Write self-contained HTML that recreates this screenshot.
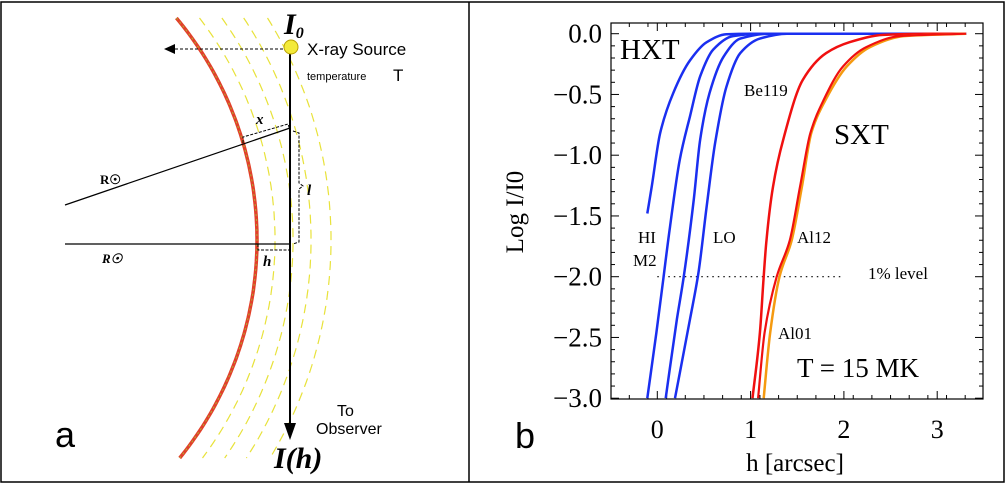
<!DOCTYPE html>
<html><head><meta charset="utf-8"><style>
html,body{margin:0;padding:0;background:#fff;}
svg{display:block;}
.serif{font-family:"Liberation Serif",serif;}
.sans{font-family:"Liberation Sans",sans-serif;}
</style></head><body>
<svg id="root" width="1006" height="485" viewBox="0 0 1006 485" xmlns="http://www.w3.org/2000/svg">
<rect x="1" y="2" width="1003" height="480" fill="#fff" stroke="#000" stroke-width="1.5"/>
<line x1="469" y1="2" x2="469" y2="482" stroke="#000" stroke-width="1.5"/>

<g id="panelA">
  <g id="arcs"></g>
  <line x1="290" y1="52" x2="290" y2="425" stroke="#000" stroke-width="2"/>
  <polygon points="284,423 296,423 290,440" fill="#000"/>
  <line x1="283" y1="49" x2="175" y2="49" stroke="#000" stroke-width="1" stroke-dasharray="3,2"/>
  <polygon points="164,49 175,44 175,54" fill="#000"/>
  <circle cx="291" cy="47" r="7" fill="#f3ea3a" stroke="#b9a000" stroke-width="1"/>
  <line x1="65" y1="205" x2="290" y2="128" stroke="#000" stroke-width="1.2"/>
  <line x1="65" y1="244" x2="290" y2="244" stroke="#000" stroke-width="1.2"/>
  <path d="M243,143 L243,137 L288,124 L290,130" fill="none" stroke="#000" stroke-width="1" stroke-dasharray="3,1.5"/>
  <path d="M293,131 L299,133 L299,183 L303,186 L299,189 L299,242 L293,244" fill="none" stroke="#000" stroke-width="1" stroke-dasharray="3,1.5"/>
  <path d="M258,244 L258,250 L289,250" fill="none" stroke="#000" stroke-width="1" stroke-dasharray="3,1.5"/>
  <text x="256" y="124" class="serif" font-size="15" font-style="italic" font-weight="bold">x</text>
  <text x="307" y="195" class="serif" font-size="15" font-style="italic" font-weight="bold">l</text>
  <text x="263" y="266" class="serif" font-size="15" font-style="italic" font-weight="bold">h</text>
  <text x="100" y="184" class="serif" font-size="13" font-weight="bold">R☉</text>
  <text x="102" y="263" class="serif" font-size="13" font-style="italic" font-weight="bold">R☉</text>
  <text x="284" y="34" class="serif" font-size="30" font-style="italic" font-weight="bold">I<tspan font-size="16" dy="4">0</tspan></text>
  <text x="307" y="55" class="sans" font-size="17">X-ray Source</text>
  <text x="307" y="80" class="sans" font-size="11">temperature</text>
  <text x="393" y="81" class="sans" font-size="17">T</text>
  <text x="337" y="416" class="sans" font-size="16">To</text>
  <text x="316" y="434" class="sans" font-size="16">Observer</text>
  <text x="274" y="468" class="serif" font-size="30" font-style="italic" font-weight="bold">I(h)</text>
  <text x="55" y="447" class="sans" font-size="36">a</text>
</g>

<g id="panelB">
  <g id="ticks"></g>
  <g id="series"></g>
  <rect x="611" y="23" width="372" height="376" fill="none" stroke="#000" stroke-width="1.2"/>
  <text x="620" y="59" class="serif" font-size="29">HXT</text>
  <text x="834" y="144" class="serif" font-size="29">SXT</text>
  <text x="744" y="96" class="serif" font-size="17">Be119</text>
  <text x="638" y="243" class="serif" font-size="17">HI</text>
  <text x="633" y="266" class="serif" font-size="17">M2</text>
  <text x="713" y="243" class="serif" font-size="17">LO</text>
  <text x="797" y="243" class="serif" font-size="17">Al12</text>
  <text x="778" y="339" class="serif" font-size="17">Al01</text>
  <text x="868" y="279" class="serif" font-size="17">1% level</text>
  <text x="797" y="377" class="serif" font-size="27">T = 15 MK</text>
  <text x="795" y="471" class="serif" font-size="25" text-anchor="middle">h [arcsec]</text>
  <text transform="translate(523,212) rotate(-90)" class="serif" font-size="25" text-anchor="middle">Log I/I0</text>
  <text x="515" y="448" class="sans" font-size="36">b</text>
</g>
</svg>
<script>
const xTicks=[0,1,2,3];
const yTicks=[0,-0.5,-1,-1.5,-2,-2.5,-3];
const yTickLabels=["0.0","\u22120.5","\u22121.0","\u22121.5","\u22122.0","\u22122.5","\u22123.0"];
const hHI=[-0.107,-0.06,0.03,0.17,0.35,0.53,0.74,1.0,3.31];
const vHI=[-1.48,-1.26,-0.82,-0.49,-0.22,-0.07,-0.005,0,0];
const hM2=[-0.107,-0.01,0.064,0.136,0.24,0.35,0.46,0.6,0.81,1.1,3.31];
const vM2=[-3.0,-2.46,-2.02,-1.59,-1.04,-0.68,-0.35,-0.13,-0.02,0,0];
const hMID=[0.09,0.21,0.28,0.39,0.46,0.56,0.71,0.89,1.2,3.31];
const vMID=[-3.0,-2.35,-2.02,-1.37,-0.87,-0.49,-0.19,-0.04,0,0];
const hLO=[0.19,0.35,0.44,0.53,0.62,0.74,0.89,1.1,1.39,3.31];
const vLO=[-3.0,-2.35,-1.97,-1.42,-0.9,-0.44,-0.16,-0.04,0,0];
const hBe=[1.02,1.1,1.14,1.17,1.24,1.35,1.56,1.81,2.06,2.42,2.9,3.31];
const vBe=[-3.0,-2.46,-2.0,-1.7,-1.26,-0.87,-0.38,-0.16,-0.07,-0.01,0,0];
const hAl12=[1.08,1.15,1.28,1.42,1.53,1.64,1.78,1.99,2.24,2.6,3.31];
const vAl12=[-3.0,-2.46,-2.0,-1.7,-1.26,-0.82,-0.55,-0.27,-0.11,-0.02,0];
const hAl01=[1.14,1.21,1.31,1.44,1.55,1.65,1.8,2.03,2.28,2.64,3.31];
const vAl01=[-3.0,-2.46,-2.0,-1.7,-1.26,-0.82,-0.55,-0.27,-0.11,-0.02,0];
const onePercent=-2;

const NS="http://www.w3.org/2000/svg";
const X0=611,X1=983,Y0=23,Y1=399;
function xs(h){return 657.3+h*93.3;}
function ys(v){return 33.7-v*121.5;}
function mk(tag,parent){const e=document.createElementNS(NS,tag);parent.appendChild(e);return e;}

// panel a arcs
const arcG=document.getElementById('arcs');
const cx=-89,cy=240,R=346;
function arcPath(r){
  const pts=[];
  for(let y=18;y<=460;y+=4){const dy=y-cy;pts.push((cx+Math.sqrt(r*r-dy*dy)).toFixed(1)+","+y);}
  return "M"+pts.join(" L");
}
[18,36,54,74].forEach(function(d){
  const p=mk('path',arcG);
  p.setAttribute('d',arcPath(R+d));p.setAttribute('fill','none');p.setAttribute('stroke','#e8e23a');p.setAttribute('stroke-width','1.2');p.setAttribute('stroke-dasharray','9,6');
  
  
});
const sun=mk('path',arcG);
sun.setAttribute('d',arcPath(R));sun.setAttribute('fill','none');sun.setAttribute('stroke','#e2402a');sun.setAttribute('stroke-width','3.5');


const sun2=mk('path',arcG);
sun2.setAttribute('d',arcPath(R));sun2.setAttribute('fill','none');sun2.setAttribute('stroke','#9acd32');sun2.setAttribute('stroke-width','0.8');sun2.setAttribute('stroke-dasharray','2,3');



// ticks
const tg=document.getElementById('ticks');
function tick(x1,y1,x2,y2,name){const l=mk('line',tg);l.setAttribute('x1',x1);l.setAttribute('y1',y1);l.setAttribute('x2',x2);l.setAttribute('y2',y2);l.setAttribute('stroke','#000');l.setAttribute('stroke-width','1');

}
for(let v=0;v>=-3.001;v-=0.1){const y=ys(v);const maj=Math.abs(v*2-Math.round(v*2))<1e-6;const L=maj?8:4;
  tick(X0,y,X0+L,y,'y-tick');tick(X1,y,X1-L,y,'y-tick-right');}
for(let h=-0.5;h<=3.45;h+=0.2){const x=xs(h);if(x<X0||x>X1)continue;tick(x,Y1,x,Y1-4,'x-minor-tick');tick(x,Y0,x,Y0+4,'x-minor-tick-top');}
xTicks.forEach(function(h){const x=xs(h);tick(x,Y1,x,Y1-8,'x-tick');tick(x,Y0,x,Y0+8,'x-tick-top');
  const t=mk('text',tg);t.setAttribute('x',x);t.setAttribute('y',438);t.setAttribute('text-anchor','middle');t.setAttribute('class','serif');t.setAttribute('font-size','26');t.textContent=String(h);
  
  });
yTicks.forEach(function(v,i){const t=mk('text',tg);t.setAttribute('x',602);t.setAttribute('y',ys(v)+9);t.setAttribute('text-anchor','end');t.setAttribute('class','serif');t.setAttribute('font-size','27');t.textContent=yTickLabels[i];
  
  });

// series
const sg=document.getElementById('series');
const ref=mk('line',sg);
ref.setAttribute('x1',xs(0.0));ref.setAttribute('x2',xs(2.0));ref.setAttribute('y1',ys(onePercent));ref.setAttribute('y2',ys(onePercent));
ref.setAttribute('stroke','#000');ref.setAttribute('stroke-width','1.2');ref.setAttribute('stroke-dasharray','1.5,4');


// monotone cubic (Fritsch-Carlson) in pixel space, x increasing
function monotonePath(P){
  const n=P.length,dx=[],m=[],t=[];
  for(let i=0;i<n-1;i++){dx.push(P[i+1][0]-P[i][0]);m.push((P[i+1][1]-P[i][1])/dx[i]);}
  t[0]=m[0];t[n-1]=m[n-2];
  for(let i=1;i<n-1;i++){
    if(m[i-1]*m[i]<=0)t[i]=0;
    else{const w1=2*dx[i]+dx[i-1],w2=dx[i]+2*dx[i-1];t[i]=(w1+w2)/(w1/m[i-1]+w2/m[i]);}
  }
  let d="M"+P[0][0].toFixed(1)+","+P[0][1].toFixed(1);
  for(let i=0;i<n-1;i++){
    const h=dx[i]/3;
    d+=" C"+(P[i][0]+h).toFixed(1)+","+(P[i][1]+t[i]*h).toFixed(1)+" "+(P[i+1][0]-h).toFixed(1)+","+(P[i+1][1]-t[i+1]*h).toFixed(1)+" "+P[i+1][0].toFixed(1)+","+P[i+1][1].toFixed(1);
  }
  return d;
}
function line(hs,vs,color,w,name){
  const p=mk('path',sg);
  const P=hs.map(function(h,i){return [xs(h),ys(vs[i])];});
  p.setAttribute('d',monotonePath(P));
  p.setAttribute('fill','none');p.setAttribute('stroke',color);p.setAttribute('stroke-width',w);p.setAttribute('stroke-linejoin','round');
  
  
}
line(hHI,vHI,'#1a2ff0',2.5,'series-hi');
line(hM2,vM2,'#1a2ff0',2.5,'series-m2');
line(hMID,vMID,'#1a2ff0',2.5,'series-m1');
line(hLO,vLO,'#1a2ff0',2.5,'series-lo');
line(hBe,vBe,'#f01010',2.5,'series-be119');
line(hAl01,vAl01,'#f59a10',2.5,'series-al01');
line(hAl12,vAl12,'#f01010',2.2,'series-al12');
</script>
</body></html>
